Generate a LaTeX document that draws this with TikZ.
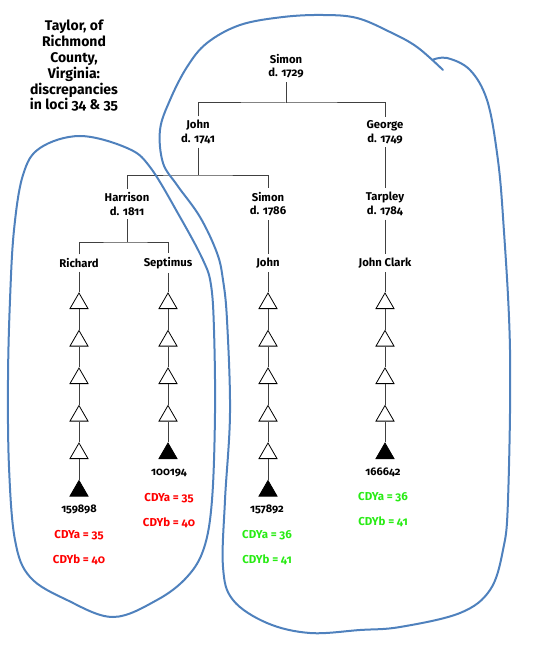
\documentclass[tikz,border=0pt]{standalone}
\usepackage{fontspec}
\setmainfont{Fira Sans}[Numbers=OldStyle]
\usetikzlibrary{shapes.geometric,positioning}
\definecolor{loopblue}{RGB}{79,129,189}
\definecolor{cdyred}{RGB}{255,0,0}
\definecolor{cdygreen}{RGB}{40,235,20}

\begin{document}
\begin{tikzpicture}[x=1pt, y=-1pt,
    title/.style={font=\fontsize{14}{15.8}\selectfont\bfseries, align=center},
    person/.style={font=\fontsize{11.3}{13.5}\selectfont\bfseries, align=center, inner sep=0pt, outer sep=4pt},
    line/.style={draw=black!75, line width=1pt},
    gen/.style={regular polygon, regular polygon sides=3, draw=black, line width=0.8pt, fill=white, inner sep=0pt, minimum size=20.8pt},
    tested/.style={gen, fill=black},
    kit/.style={font=\fontsize{11}{12}\selectfont\bfseries},
    cdy/.style={font=\fontsize{11.5}{12}\selectfont\bfseries},
    loop/.style={draw=loopblue, line width=2pt, line join=round, line cap=round}
]
\useasboundingbox (0,0) rectangle (533,663);

% Titel
\node[title] (title) at (74,66) {Taylor, of\\Richmond\\County,\\Virginia:\\discrepancies\\in loci 34 \& 35};

% Stammbaum
\node[person] (simon1729) at (286,66) {Simon\\d. 1729};
\node[person] (john1741) at (198,132) {John\\d. 1741};
\node[person] (george1749) at (385,132) {George\\d. 1749};
\node[person] (harrison1811) at (127,204) {Harrison\\d. 1811};
\node[person] (simon1786) at (268,204) {Simon\\d. 1786};
\node[person] (tarpley1784) at (385,204) {Tarpley\\d. 1784};
\node[person] (richard) at (79,263) {Richard};
\node[person] (septimus) at (168,263) {Septimus};
\node[person] (john) at (268,263) {John};
\node[person] (johnclark) at (385,263) {John Clark};

\coordinate (bar1) at (286,103);
\coordinate (bar2) at (198,175);
\coordinate (bar3) at (127,242);
\draw[line] (simon1729) -- (bar1);
\draw[line] (john1741.north) |- (bar1) -| (george1749.north);
\draw[line] (john1741) -- (bar2);
\draw[line] (harrison1811.north) |- (bar2) -| (simon1786.north);
\draw[line] (harrison1811) -- (bar3);
\draw[line] (richard.north) |- (bar3) -| (septimus.north);
\draw[line] (george1749) -- (tarpley1784);
\draw[line] (simon1786) -- (john);
\draw[line] (tarpley1784) -- (johnclark);

% Generationen (Dreiecke)
\foreach \col/\x/\n in {r/79/6, s/168/5, j/268/6, c/385/5}{
  \pgfmathtruncatemacro{\m}{\n-1}
  \foreach \i in {1,...,\m}
    \node[gen] (\col\i) at (\x,{303.4+37.5*(\i-1)}) {};
  \node[tested] (\col\n) at (\x,{303.4+37.5*(\n-1)}) {};
  \foreach \i in {1,...,\m}{
    \pgfmathtruncatemacro{\j}{\i+1}
    \draw[line] (\col\i) -- (\col\j);
  }
}
\draw[line] (richard) -- (r1);
\draw[line] (septimus) -- (s1);
\draw[line] (john) -- (j1);
\draw[line] (johnclark) -- (c1);

% Kit-Nummern und Werte
\node[kit] (kit159898) at (79,509) {159898};
\node[cdy, cdyred] (cdya1) at (79,535) {CDYa = 35};
\node[cdy, cdyred] (cdyb1) at (79,560) {CDYb = 40};
\node[kit] (kit100194) at (169,473) {100194};
\node[cdy, cdyred] (cdya2) at (169,498) {CDYa = 35};
\node[cdy, cdyred] (cdyb2) at (169,523) {CDYb = 40};
\node[kit] (kit157892) at (267,509) {157892};
\node[cdy, cdygreen] (cdya3) at (267,535) {CDYa = 36};
\node[cdy, cdygreen] (cdyb3) at (267,560) {CDYb = 41};
\node[kit] (kit166642) at (383,472) {166642};
\node[cdy, cdygreen] (cdya4) at (383,497) {CDYa = 36};
\node[cdy, cdygreen] (cdyb4) at (383,522) {CDYb = 41};

% Schlingen
\draw[loop] plot[smooth cycle, tension=0.6] coordinates {
  (80,136) (127,148) (150,167) (180,217) (203,260) (211,285) (214,330)
  (215,413) (212,500) (204,548) (187,577) (157,600) (113,617) (67,600)
  (30,577) (15,540) (9,467) (8,380) (10,300) (14,230) (23,175) (40,148)};
\draw[loop] plot[smooth, tension=0.6] coordinates {
  (432,60) (447,58) (470,70) (487,100) (497,153) (503,217) (510,350)
  (508,500) (503,550) (490,590) (460,613) (400,627) (360,630) (310,633)
  (267,623) (233,600) (223,567) (225,500) (230,413) (227,320) (223,280)
  (217,253) (200,217) (177,185) (163,163) (160,130) (170,100) (187,67)
  (207,43) (240,25) (283,17) (323,15) (357,18) (390,32) (417,47) (443,70)};
\end{tikzpicture}
\end{document}
